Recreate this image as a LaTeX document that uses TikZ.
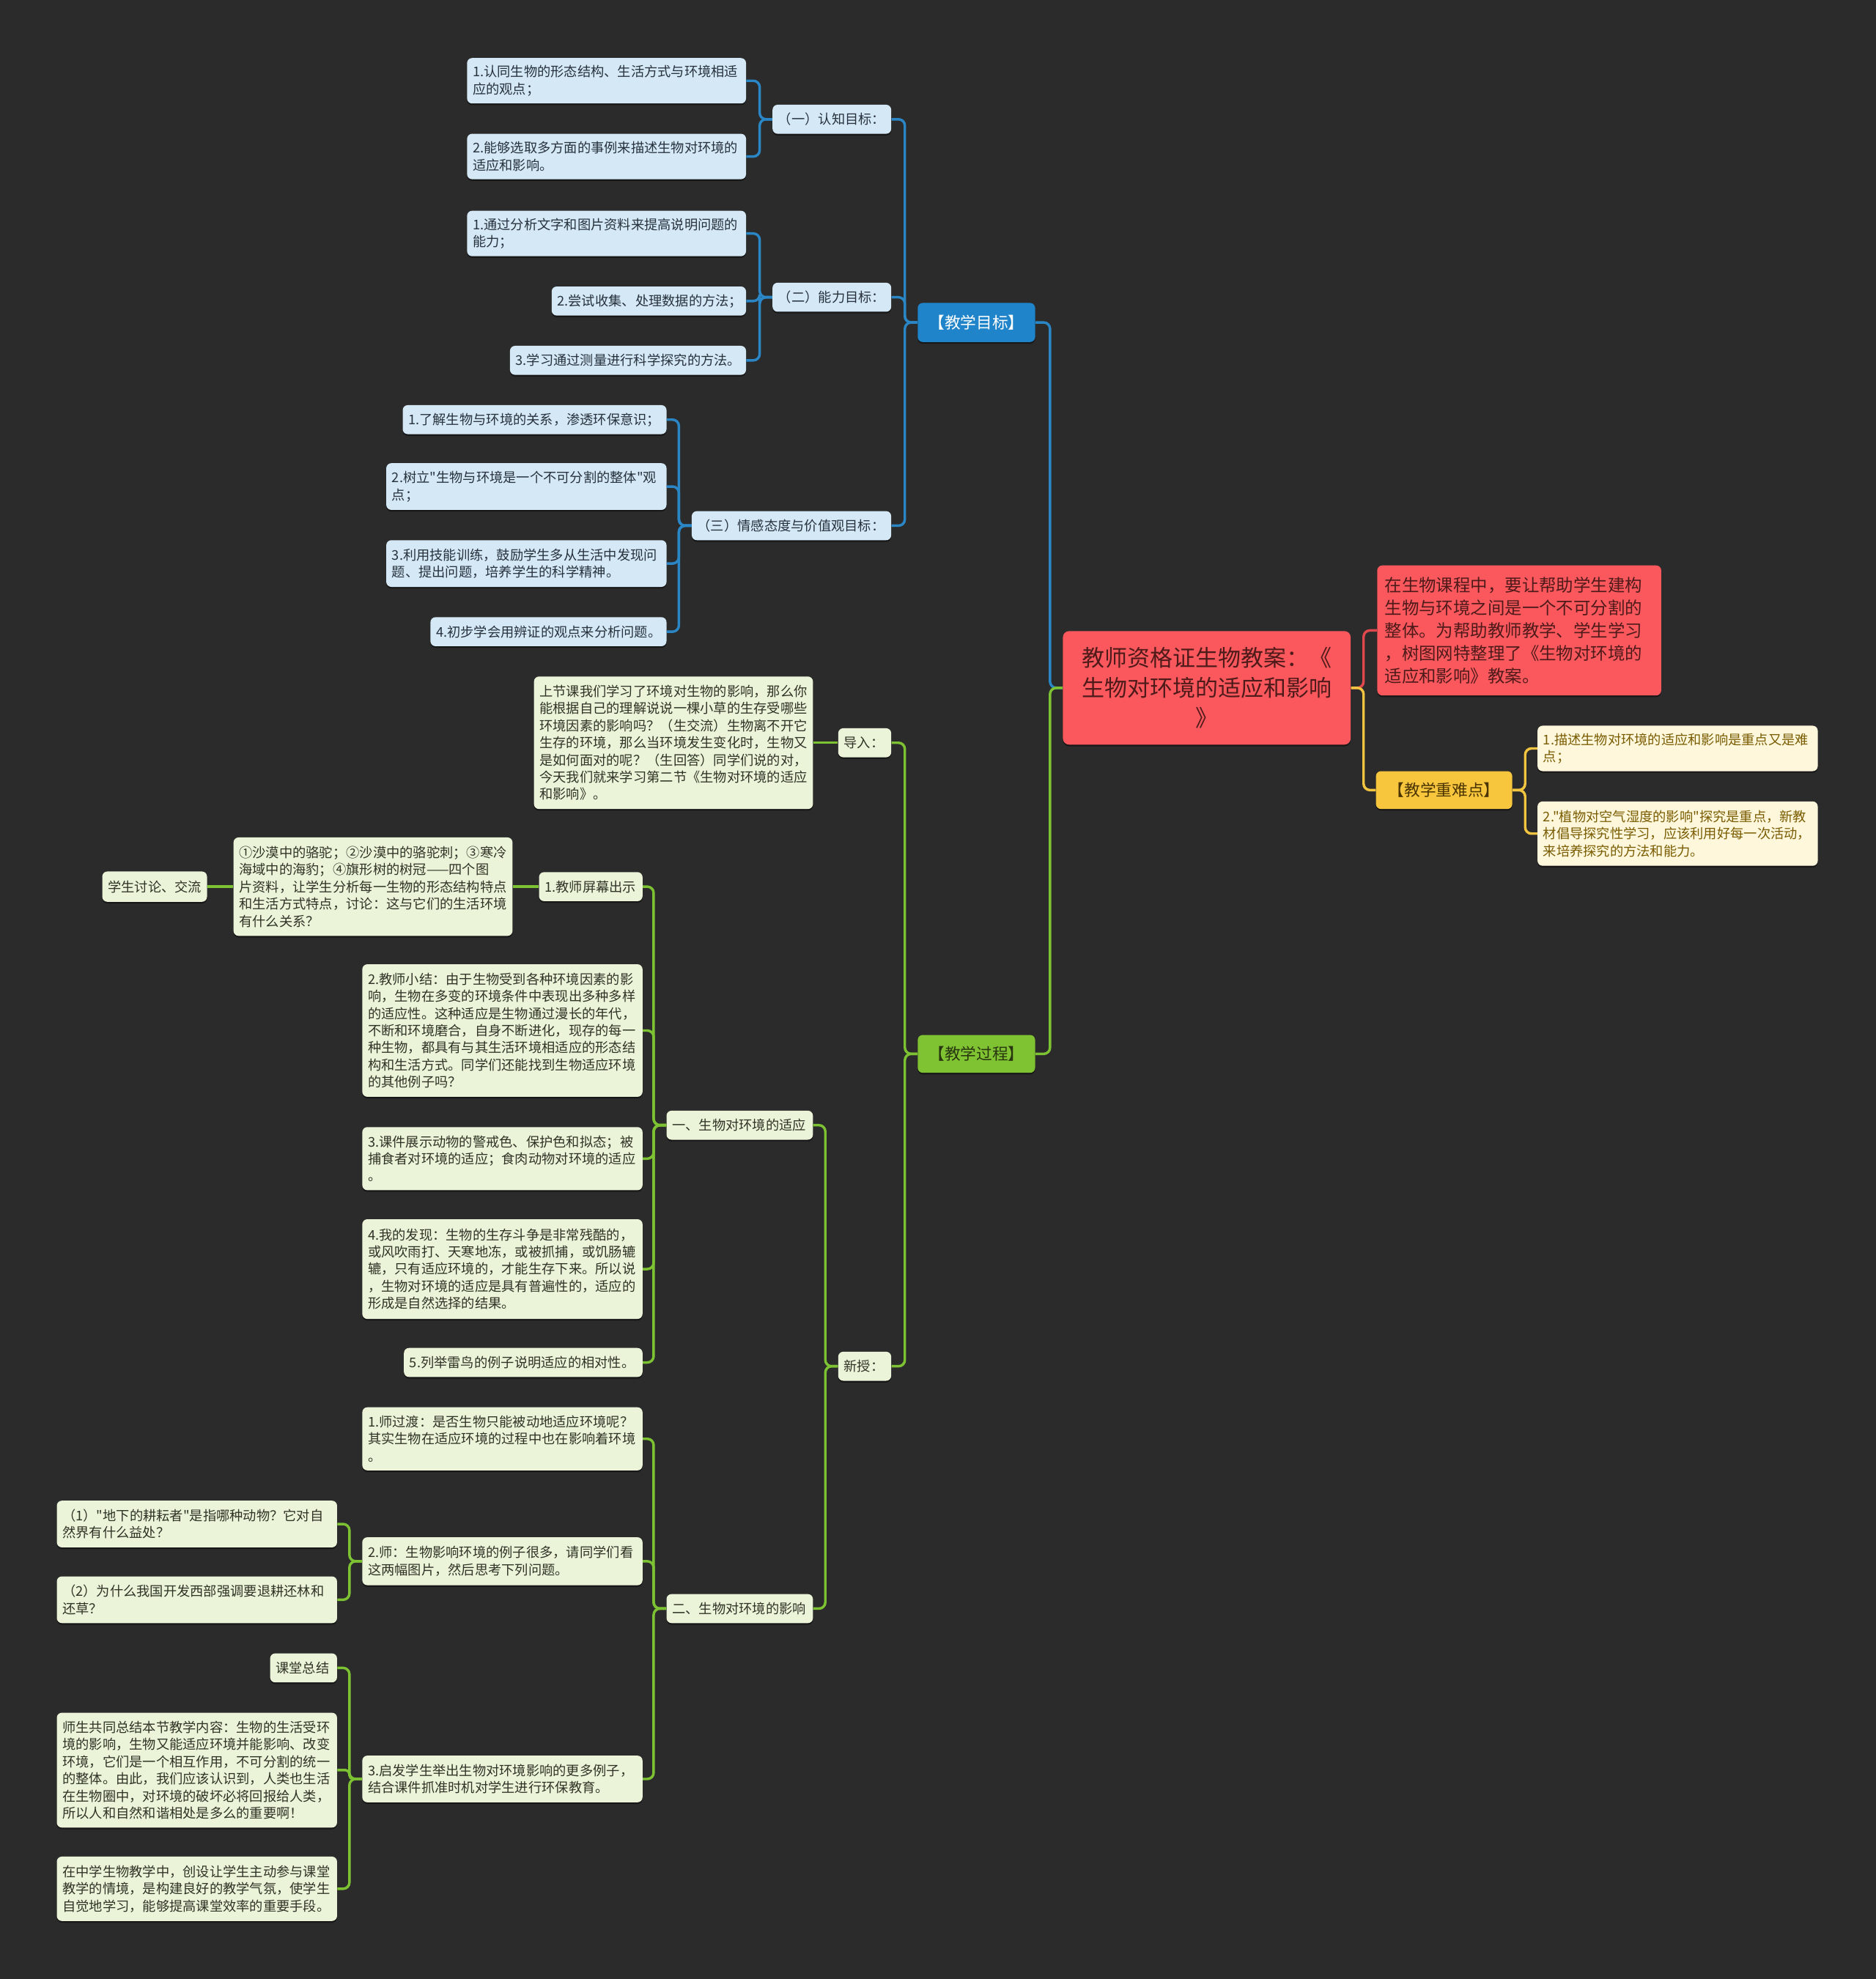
\documentclass[tikz,border=0pt]{standalone}
\usepackage{fontspec}
\setmainfont{Noto Sans CJK SC}[Ligatures=TeXOff]
\usetikzlibrary{shadows}
\definecolor{bg}{HTML}{2B2B2B}
\definecolor{rootfill}{HTML}{FA585D}
\definecolor{roottext}{HTML}{4E1A1A}
\definecolor{redline}{HTML}{E0484E}
\definecolor{bluefill}{HTML}{1F84C9}
\definecolor{blueline}{HTML}{2A86C5}
\definecolor{lbfill}{HTML}{D4E8F5}
\definecolor{lbtext}{HTML}{27323D}
\definecolor{greenfill}{HTML}{80C332}
\definecolor{greentext}{HTML}{28360F}
\definecolor{greenline}{HTML}{7DC232}
\definecolor{lgfill}{HTML}{EBF4D9}
\definecolor{lgtext}{HTML}{2F3326}
\definecolor{yelfill}{HTML}{F8C63D}
\definecolor{yeltext}{HTML}{4A3400}
\definecolor{yelline}{HTML}{F2C540}
\definecolor{crfill}{HTML}{FEF7DC}
\definecolor{crtext}{HTML}{7A5C00}
\tikzset{
  box/.style={rounded corners=4pt, inner xsep=4.5pt, inner ysep=2pt, align=left,
    font=\fontsize{10.6}{13.6}\selectfont,
    drop shadow={shadow xshift=0pt, shadow yshift=-1.3pt, opacity=0.45, fill=black}},
  lb/.style={box, fill=lbfill, text=lbtext},
  lg/.style={box, fill=lgfill, text=lgtext},
  cr/.style={box, fill=crfill, text=crtext},
  mainb/.style={box, fill=bluefill, text=white, align=center, font=\fontsize{12.6}{15}\selectfont},
  maing/.style={box, fill=greenfill, text=greentext, align=center, font=\fontsize{12.6}{15}\selectfont},
  mainy/.style={box, fill=yelfill, text=yeltext, align=center, font=\fontsize{12.6}{15}\selectfont},
  rootbox/.style={box, rounded corners=5pt, fill=rootfill, text=roottext, align=center, font=\fontsize{18}{24}\selectfont},
  descbox/.style={box, fill=rootfill, text=roottext, inner xsep=6pt, font=\fontsize{13.6}{18}\selectfont},
  conn/.style={line width=2pt, rounded corners=5pt},
  eb/.style={conn, draw=blueline},
  eg/.style={conn, draw=greenline},
  er/.style={conn, draw=redline},
  ey/.style={conn, draw=yelline}
}
\newcommand\bx[7]{\node[#1, minimum width=#5, minimum height=#6, text width={#5-9}] (#2) at (#3,#4) {#7};}
\newcommand\LE[3]{\draw[#1] (#2.west) -- ++(-10,0) |- (#3.east);}
\newcommand\RE[3]{\draw[#1] (#2.east) -- ++(10,0) |- (#3.west);}
\begin{document}
\begin{tikzpicture}[x=1pt,y=-1pt]
\fill[bg] (0,0) rectangle (1486,1568);
\useasboundingbox (0,0) rectangle (1486,1568);

% root and right side
\bx{rootbox}{root}{956}{545}{228}{90}{教师资格证生物教案：《\\生物对环境的适应和影响\\》}
\node[descbox, minimum width=225, minimum height=103, text width=213] (desc) at (1203.5,499.5) {在生物课程中，要让帮助学生建构\\生物与环境之间是一个不可分割的\\整体。为帮助教师教学、学生学习\\，树图网特整理了《生物对环境的\\适应和影响》教案。};
\bx{mainy}{y1}{1144}{626}{108}{30}{【教学重难点】}
\bx{cr}{y11}{1329}{593}{222}{36}{1.描述生物对环境的适应和影响是重点又是难\\点；}
\bx{cr}{y12}{1329}{660.5}{222}{51}{2."植物对空气湿度的影响"探究是重点，新教\\材倡导探究性学习，应该利用好每一次活动，\\来培养探究的方法和能力。}

% teaching goals
\bx{mainb}{mb}{773.5}{255.5}{93}{31}{【教学目标】}
\bx{lb}{b1}{659}{94.5}{94}{23}{（一）认知目标：}
\bx{lb}{b11}{480.5}{64}{221}{36}{1.认同生物的形态结构、生活方式与环境相适\\应的观点；}
\bx{lb}{b12}{480.5}{124}{221}{36}{2.能够选取多方面的事例来描述生物对环境的\\适应和影响。}
\bx{lb}{b2}{659}{235.5}{94}{23}{（二）能力目标：}
\bx{lb}{b21}{480.5}{185}{221}{36}{1.通过分析文字和图片资料来提高说明问题的\\能力；}
\bx{lb}{b22}{514}{238.5}{154}{23}{2.尝试收集、处理数据的方法；}
\bx{lb}{b23}{497.5}{285.5}{187}{23}{3.学习通过测量进行科学探究的方法。}
\bx{lb}{b3}{627}{416.5}{158}{23}{（三）情感态度与价值观目标：}
\bx{lb}{b31}{423.5}{332.5}{209}{23}{1.了解生物与环境的关系，渗透环保意识；}
\bx{lb}{b32}{417}{385.5}{222}{37}{2.树立"生物与环境是一个不可分割的整体"观\\点；}
\bx{lb}{b33}{417}{446.5}{222}{37}{3.利用技能训练，鼓励学生多从生活中发现问\\题、提出问题，培养学生的科学精神。}
\bx{lb}{b34}{434.5}{500.5}{187}{23}{4.初步学会用辨证的观点来分析问题。}

% teaching process
\bx{maing}{mg}{773.5}{835}{93}{30}{【教学过程】}
\bx{lg}{g1}{685}{588.5}{42}{23}{导入：}
\bx{lg}{g11}{533.5}{588.5}{221}{105}{上节课我们学习了环境对生物的影响，那么你\\能根据自己的理解说说一棵小草的生存受哪些\\环境因素的影响吗？（生交流）生物离不开它\\生存的环境，那么当环境发生变化时，生物又\\是如何面对的呢？（生回答）同学们说的对，\\今天我们就来学习第二节《生物对环境的适应\\和影响》。}
\bx{lg}{g2}{685}{1082.5}{42}{23}{新授：}
\bx{lg}{g21}{586}{891.5}{116}{23}{一、生物对环境的适应}
\bx{lg}{g211}{468}{702.5}{82}{23}{1.教师屏幕出示}
\bx{lg}{g2111}{295.5}{702.5}{221}{78}{①沙漠中的骆驼；②沙漠中的骆驼刺；③寒冷\\海域中的海豹；④旗形树的树冠——四个图\\片资料，让学生分析每一生物的形态结构特点\\和生活方式特点，讨论：这与它们的生活环境\\有什么关系？}
\bx{lg}{g21111}{122.5}{702.5}{83}{24}{学生讨论、交流}
\bx{lg}{g212}{398}{816.5}{222}{105}{2.教师小结：由于生物受到各种环境因素的影\\响，生物在多变的环境条件中表现出多种多样\\的适应性。这种适应是生物通过漫长的年代，\\不断和环境磨合，自身不断进化，现存的每一\\种生物，都具有与其生活环境相适应的形态结\\构和生活方式。同学们还能找到生物适应环境\\的其他例子吗？}
\bx{lg}{g213}{398}{918}{222}{50}{3.课件展示动物的警戒色、保护色和拟态；被\\捕食者对环境的适应；食肉动物对环境的适应\\。}
\bx{lg}{g214}{398}{1005.5}{222}{79}{4.我的发现：生物的生存斗争是非常残酷的，\\或风吹雨打、天寒地冻，或被抓捕，或饥肠辘\\辘，只有适应环境的，才能生存下来。所以说\\，生物对环境的适应是具有普遍性的，适应的\\形成是自然选择的结果。}
\bx{lg}{g215}{414.5}{1079.5}{189}{23}{5.列举雷鸟的例子说明适应的相对性。}
\bx{lg}{g22}{586}{1274.5}{116}{23}{二、生物对环境的影响}
\bx{lg}{g221}{398}{1140}{222}{50}{1.师过渡：是否生物只能被动地适应环境呢？\\其实生物在适应环境的过程中也在影响着环境\\。}
\bx{lg}{g222}{398}{1237}{222}{38}{2.师：生物影响环境的例子很多，请同学们看\\这两幅图片，然后思考下列问题。}
\bx{lg}{g2221}{156}{1207.5}{222}{37}{（1）"地下的耕耘者"是指哪种动物？它对自\\然界有什么益处？}
\bx{lg}{g2222}{156}{1267.5}{222}{37}{（2）为什么我国开发西部强调要退耕还林和\\还草？}
\bx{lg}{g223}{398}{1409.5}{222}{37}{3.启发学生举出生物对环境影响的更多例子，\\结合课件抓准时机对学生进行环保教育。}
\bx{lg}{g2231}{240.5}{1321.5}{53}{23}{课堂总结}
\bx{lg}{g2232}{156}{1402.5}{222}{91}{师生共同总结本节教学内容：生物的生活受环\\境的影响，生物又能适应环境并能影响、改变\\环境，它们是一个相互作用，不可分割的统一\\的整体。由此，我们应该认识到，人类也生活\\在生物圈中，对环境的破坏必将回报给人类，\\所以人和自然和谐相处是多么的重要啊！}
\bx{lg}{g2233}{156}{1496.5}{222}{51}{在中学生物教学中，创设让学生主动参与课堂\\教学的情境，是构建良好的教学气氛，使学生\\自觉地学习，能够提高课堂效率的重要手段。}

% connectors: root
\LE{eb}{root}{mb}
\LE{eg}{root}{mg}
\RE{er}{root}{desc}
\RE{ey}{root}{y1}
\RE{ey}{y1}{y11}
\RE{ey}{y1}{y12}
% goals
\LE{eb}{mb}{b1}
\LE{eb}{mb}{b2}
\LE{eb}{mb}{b3}
\LE{eb}{b1}{b11}
\LE{eb}{b1}{b12}
\LE{eb}{b2}{b21}
\LE{eb}{b2}{b22}
\LE{eb}{b2}{b23}
\LE{eb}{b3}{b31}
\LE{eb}{b3}{b32}
\LE{eb}{b3}{b33}
\LE{eb}{b3}{b34}
% process
\LE{eg}{mg}{g1}
\LE{eg}{mg}{g2}
\draw[eg] (g1.west) -- (g11.east);
\LE{eg}{g2}{g21}
\LE{eg}{g2}{g22}
\LE{eg}{g21}{g211}
\LE{eg}{g21}{g212}
\LE{eg}{g21}{g213}
\LE{eg}{g21}{g214}
\LE{eg}{g21}{g215}
\draw[eg] (g211.west) -- (g2111.east);
\draw[eg] (g2111.west) -- (g21111.east);
\LE{eg}{g22}{g221}
\LE{eg}{g22}{g222}
\LE{eg}{g22}{g223}
\LE{eg}{g222}{g2221}
\LE{eg}{g222}{g2222}
\LE{eg}{g223}{g2231}
\LE{eg, rounded corners=3pt}{g223}{g2232}
\LE{eg}{g223}{g2233}
\end{tikzpicture}
\end{document}
